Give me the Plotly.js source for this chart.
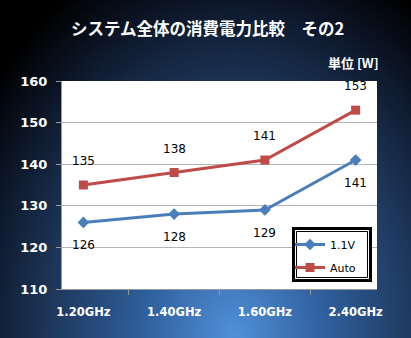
<!DOCTYPE html>
<html><head><meta charset="utf-8">
<script src="https://cdn.plot.ly/plotly-3.0.1.min.js"></script>
<style>
html,body{margin:0;padding:0;}
#chart{width:411px;height:338px;
background:radial-gradient(ellipse 75% 120% at 57% 100%, #5190d8 0%, #2f5f9c 30%, #1c3456 62%, #0b1424 85%, #000 100%);}
</style></head><body>
<div id="chart"></div>
<script>
const categories = ["1.20GHz","1.40GHz","1.60GHz","2.40GHz"];
const series1Name = "1.1V";
const series1 = [126,128,129,141];
const series2Name = "Auto";
const series2 = [135,138,141,153];
const yTicks = [110,120,130,140,150,160];

const lblFont = {family:"DejaVu Sans, Verdana, sans-serif", size:12, color:"#000"};
const ann = [];
categories.forEach((c,i)=>{
  ann.push({x:c, y:series1[i], xref:"x", yref:"y", text:String(series1[i]), showarrow:false, yshift:-23, font:lblFont});
  ann.push({x:c, y:series2[i], xref:"x", yref:"y", text:String(series2[i]), showarrow:false, yshift:24, font:lblFont});
});
ann.push({xref:"paper", yref:"paper", x:1.013, y:1, xanchor:"right", yanchor:"bottom", yshift:7,
  text:"<b>単位 [W]</b>", showarrow:false, font:{family:"Noto Sans CJK JP, sans-serif", size:13, color:"#fff"}});

const traces = [
  {x:categories, y:series1, name:series1Name, legendgroup:"a", type:"scatter", mode:"lines+markers",
   line:{color:"#4a7ebb", width:3}, marker:{symbol:"diamond", size:9, color:"#4a7ebb"}},
  {x:categories, y:series2, name:series2Name, legendgroup:"b", type:"scatter", mode:"lines+markers",
   line:{color:"#be4b48", width:3}, marker:{symbol:"square", size:9, color:"#be4b48"}}
];

// plot area: x 62..377, y 81..289  (315 x 208)
const px = v => (v-62)/315, py = v => (289-v)/208;
const shapes = [
  {type:"rect", xref:"paper", yref:"paper", x0:px(293.5), x1:px(370.5), y0:py(280.5), y1:py(228.5),
   line:{color:"#000", width:3}, fillcolor:"#fff", layer:"above"},
  {type:"rect", xref:"paper", yref:"paper", x0:px(296.5), x1:px(367.5), y0:py(277.5), y1:py(231.5),
   line:{color:"#000", width:1}, fillcolor:"rgba(0,0,0,0)", layer:"above"}
];

const layout = {
  width:411, height:338,
  paper_bgcolor:"rgba(0,0,0,0)", plot_bgcolor:"#fff",
  margin:{l:62, r:34, t:81, b:49},
  title:{text:"<b>システム全体の消費電力比較　その2</b>", x:0.505, xanchor:"center", y:0.915, yanchor:"middle",
    font:{family:"Noto Sans CJK JP, sans-serif", size:16.5, color:"#fff"}},
  showlegend:true,
  legend:{x:px(290), y:py(230), xanchor:"left", yanchor:"top", bgcolor:"rgba(0,0,0,0)", borderwidth:0,
    font:{family:"DejaVu Sans, Verdana, sans-serif", size:11, color:"#000"}, tracegroupgap:4},
  xaxis:{type:"category", tickson:"boundaries", ticks:"outside", ticklen:5, tickcolor:"#999",
    showline:true, linecolor:"#999", linewidth:1, showgrid:false, ticklabelstandoff:12,
    tickfont:{family:"DejaVu Sans, Verdana, sans-serif", size:11.5, color:"#fff", weight:"bold"}},
  yaxis:{range:[110,160], tickvals:yTicks, ticks:"outside", ticklen:5, tickcolor:"#999",
    showline:true, linecolor:"#999", showgrid:true, gridcolor:"#b4b4b4", zeroline:false, ticklabelstandoff:6,
    tickfont:{family:"DejaVu Sans, Verdana, sans-serif", size:13, color:"#fff", weight:"bold"}},
  shapes:shapes,
  annotations:ann
};
Plotly.newPlot("chart", traces, layout, {displayModeBar:false, staticPlot:true});
</script>
</body></html>
